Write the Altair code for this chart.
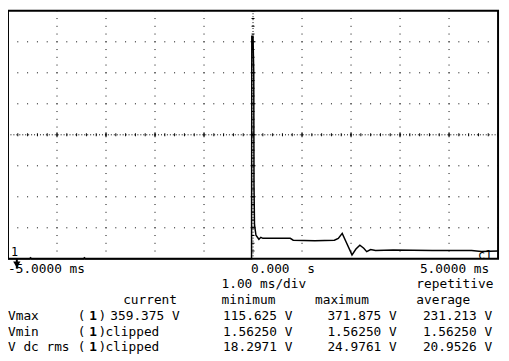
import altair as alt
import pandas as pd

# ---- trace data (time in ms, volts) ----
t_ms = [-5.0, -4.56, -4.54, -4.52, -3.46, -3.44, -3.42, -0.03, -0.025, 0.0, 0.015, 0.02, 0.03,
        0.06, 0.12, 0.16, 0.2, 0.76, 0.82, 1.26, 1.66, 1.74, 1.82, 1.9, 2.02, 2.1, 2.18,
        2.26, 2.32, 2.4, 2.5, 2.86, 3.66, 4.46, 4.66, 5.0]
volts = [0, 0, 1.5, 0, 0, 1.5, 0, 0, 359, 359, 300, 120, 55,
         38, 31.5, 34.6, 33, 33, 30, 29, 30, 33, 41, 27, 6.3, 15.7, 22,
         17, 11.5, 15, 13.4, 14.2, 13.4, 13.4, 11.8, 12.6]

# ---- grid ----
grid_t = [-4, -3, -2, -1, 1, 2, 3, 4]
grid_v = [50, 100, 150, 250, 300, 350]

# ---- text content ----
time_left, time_center, time_unit, time_right = "-5.0000 ms", "0.000", "s", "5.0000 ms"
timebase, mode = "1.00 ms/div", "repetitive"
headers = ["current", "minimum", "maximum", "average"]
row_labels = ["Vmax", "Vmin", "V dc rms"]
current_vals = ["359.375 V", "clipped", "clipped"]
min_vals = ["115.625 V", "1.56250 V", "18.2971 V"]
max_vals = ["371.875 V", "1.56250 V", "24.9761 V"]
avg_vals = ["231.213 V", "1.56250 V", "20.9526 V"]

W, H = 498, 252
FONT = "DejaVu Sans Mono"
FS = 13

xs = alt.Scale(domain=[-5, 5], nice=False, zero=False)
ys = alt.Scale(domain=[0, 400], nice=False, zero=False)

layers = []

# vertical dotted grid lines
layers.append(
    alt.Chart(pd.DataFrame({"t": grid_t})).mark_rule(
        color="black", strokeWidth=1, strokeDash=[1, H / 32 - 1], strokeDashOffset=0.5
    ).encode(x=alt.X("t:Q", scale=xs, axis=None), y=alt.value(0), y2=alt.value(H))
)
# horizontal dotted grid lines
layers.append(
    alt.Chart(pd.DataFrame({"v": grid_v})).mark_rule(
        color="black", strokeWidth=1, strokeDash=[1, W / 50 - 1], strokeDashOffset=0.5
    ).encode(y=alt.Y("v:Q", scale=ys, axis=None), x=alt.value(0), x2=alt.value(W))
)
# center horizontal axis: dense dots + ticks
center = pd.DataFrame({"v": [200]})
for sw, dash in [(1, [1, 2]), (3, [1, W / 50 - 1]), (5, [1, W / 10 - 1])]:
    layers.append(
        alt.Chart(center).mark_rule(color="black", strokeWidth=sw, strokeDash=dash, strokeDashOffset=0.5)
        .encode(y=alt.Y("v:Q", scale=ys, axis=None), x=alt.value(0), x2=alt.value(W))
    )
# center vertical axis
center_t = pd.DataFrame({"t": [0]})
for sw, dash in [(1, [1, 2]), (3, [1, H / 32 - 1]), (5, [1, H / 8 - 1])]:
    layers.append(
        alt.Chart(center_t).mark_rule(color="black", strokeWidth=sw, strokeDash=dash, strokeDashOffset=0.5)
        .encode(x=alt.X("t:Q", scale=xs, axis=None), y=alt.value(0), y2=alt.value(H))
    )

# trace
trace = pd.DataFrame({"t": t_ms, "v": volts})
layers.append(
    alt.Chart(trace).mark_line(color="black", strokeWidth=1.5)
    .encode(x=alt.X("t:Q", scale=xs, axis=None), y=alt.Y("v:Q", scale=ys, axis=None))
)

# ground marker
gnd = pd.DataFrame({"t": [-4.82]})
layers.append(
    alt.Chart(gnd).mark_rule(color="black", strokeWidth=2)
    .encode(x=alt.X("t:Q", scale=xs, axis=None), y=alt.value(H), y2=alt.value(H + 10))
)
layers.append(
    alt.Chart(gnd).mark_point(shape="triangle-down", filled=True, color="black", size=55, opacity=1)
    .encode(x=alt.X("t:Q", scale=xs, axis=None), y=alt.value(H + 6))
)


def label(s, x, y, align="left", bold=False, size=FS):
    return alt.Chart(pd.DataFrame({"s": [s]})).mark_text(
        align=align, baseline="middle", font=FONT, fontSize=size,
        fontWeight="bold" if bold else "normal", color="black"
    ).encode(text="s:N", x=alt.value(x), y=alt.value(y))


layers.append(label("1", 3, H - 7, size=12))
layers.append(label("c1", 492, H - 4, align="right", size=12))

row_y = [262, 278, 294, 310, 326, 342]
layers.append(label(time_left, 0, row_y[0]))
layers.append(label(time_center, 247, row_y[0]))
layers.append(label(time_unit, 304, row_y[0]))
layers.append(label(time_right, 489, row_y[0], align="right"))
layers.append(label(timebase, 217, row_y[1]))
layers.append(label(mode, 415, row_y[1]))

header_x = [117, 217, 312, 415]
for h, hx in zip(headers, header_x):
    layers.append(label(h, hx, row_y[2]))

for i, name in enumerate(row_labels):
    y = row_y[3 + i]
    layers.append(label(name, 0, y))
    layers.append(label("(", 71, y))
    layers.append(label("1", 86.5, y, align="center", bold=True))
    layers.append(label(")", 92, y))
    cur_x = 104 if current_vals[i][0].isdigit() else 99
    layers.append(label(current_vals[i], cur_x, y))
    layers.append(label(min_vals[i], 289, y, align="right"))
    layers.append(label(max_vals[i], 395, y, align="right"))
    layers.append(label(avg_vals[i], 492, y, align="right"))

chart = alt.layer(*layers).properties(
    width=W, height=H,
    padding={"left": 0, "top": 0, "right": 3, "bottom": 101},
    autosize=alt.AutoSizeParams(type="none"),
    background="white",
).configure_view(stroke="black", strokeWidth=2)

chart.save("out.html", embed_options={"renderer": "svg", "actions": False})
